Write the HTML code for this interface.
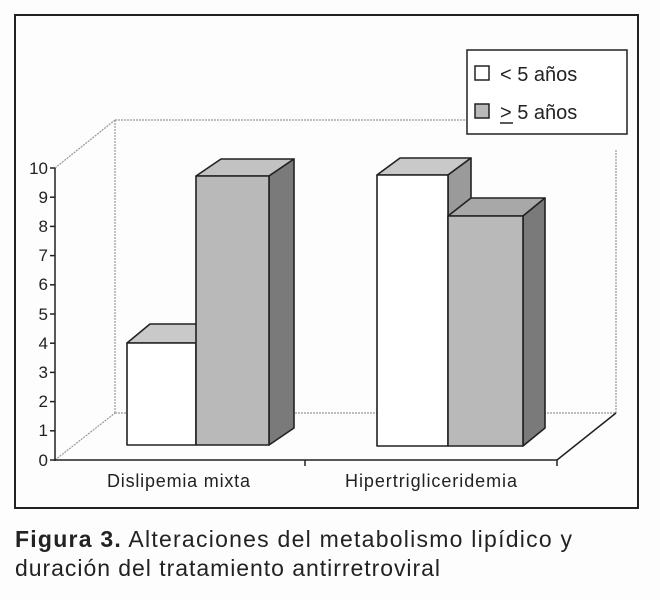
<!DOCTYPE html>
<html><head><meta charset="utf-8"><style>
body{margin:0;background:#fff;}
svg{display:block;font-family:"Liberation Sans",sans-serif;}
</style></head><body>
<svg width="660" height="600" viewBox="0 0 660 600">
<rect x="0" y="0" width="660" height="600" fill="#fdfdfd"/>
<rect x="15" y="15" width="623" height="493" fill="none" stroke="#222" stroke-width="2"/>
<g stroke="#999" stroke-width="1.2" fill="none" stroke-dasharray="2,1">
<line x1="115" y1="120" x2="468" y2="120"/>
<line x1="115" y1="120" x2="115" y2="413"/>
<line x1="115" y1="413" x2="616" y2="413"/>
<line x1="616" y1="150" x2="616" y2="413"/>
<line x1="55" y1="168" x2="115" y2="120"/>
<line x1="55" y1="460" x2="115" y2="413"/>
</g>
<g stroke="#222" stroke-width="1.5" fill="none">
<line x1="55" y1="168" x2="55" y2="461"/>
<line x1="55" y1="460" x2="557" y2="460"/>
<line x1="557" y1="460" x2="616" y2="413"/>
<line x1="305" y1="460" x2="305" y2="466"/>
<line x1="557" y1="460" x2="557" y2="466"/>
</g>
<g stroke="#222" stroke-width="1.5">
<line x1="50" y1="168" x2="55" y2="168"/><line x1="50" y1="197.2" x2="55" y2="197.2"/>
<line x1="50" y1="226.4" x2="55" y2="226.4"/><line x1="50" y1="255.6" x2="55" y2="255.6"/>
<line x1="50" y1="284.8" x2="55" y2="284.8"/><line x1="50" y1="314" x2="55" y2="314"/>
<line x1="50" y1="343.2" x2="55" y2="343.2"/><line x1="50" y1="372.4" x2="55" y2="372.4"/>
<line x1="50" y1="401.6" x2="55" y2="401.6"/><line x1="50" y1="430.8" x2="55" y2="430.8"/>
<line x1="50" y1="460" x2="55" y2="460"/>
</g>
<g font-size="17" fill="#222" text-anchor="end">
<text x="48" y="174">10</text><text x="48" y="203">9</text><text x="48" y="232">8</text>
<text x="48" y="261">7</text><text x="48" y="290">6</text><text x="48" y="320">5</text>
<text x="48" y="349">4</text><text x="48" y="378">3</text><text x="48" y="407">2</text>
<text x="48" y="436">1</text><text x="48" y="466">0</text>
</g>
<g stroke="#222" stroke-width="1.6" stroke-linejoin="round">
<polygon points="127,343 150,324 219,324 196,343" fill="#c9c9c9"/>
<rect x="127" y="343" width="69" height="102" fill="#fff"/>
<polygon points="196,176 221,159 294,159 269,176" fill="#c2c2c2"/>
<polygon points="269,176 294,159 294,428 269,445" fill="#7a7a7a"/>
<rect x="196" y="176" width="73" height="269" fill="#b9b9b9"/>
<polygon points="377,175 400,158 471,158 448,175" fill="#c9c9c9"/>
<polygon points="448,175 471,158 471,200 448,216" fill="#9a9a9a"/>
<rect x="377" y="175" width="71" height="271" fill="#fff"/>
<polygon points="448,216 471,198 545,198 523,216" fill="#a8a8a8"/>
<polygon points="523,216 545,198 545,428 523,446" fill="#7a7a7a"/>
<rect x="448" y="216" width="75" height="230" fill="#b9b9b9"/>
</g>
<g font-size="18" fill="#222">
<text x="107" y="487" textLength="143" lengthAdjust="spacing">Dislipemia mixta</text>
<text x="345" y="487" textLength="172" lengthAdjust="spacing">Hipertrigliceridemia</text>
</g>
<rect x="467" y="50" width="160" height="84" fill="#fff" stroke="#222" stroke-width="1.5"/>
<rect x="475" y="66" width="14" height="14" fill="#fff" stroke="#222" stroke-width="1.5"/>
<rect x="475" y="104" width="14" height="14" fill="#b9b9b9" stroke="#222" stroke-width="1.5"/>
<g font-size="20" fill="#222">
<text x="500" y="81">&lt; 5 años</text>
<text x="500" y="119">&gt; 5 años</text>
</g>
<line x1="500" y1="123" x2="513" y2="123" stroke="#222" stroke-width="1.5"/>
<g font-size="23" fill="#222">
<text x="15" y="547" textLength="557" lengthAdjust="spacing"><tspan font-weight="bold">Figura 3.</tspan> Alteraciones del metabolismo lipídico y</text>
<text x="15" y="576" textLength="425" lengthAdjust="spacing">duración del tratamiento antirretroviral</text>
</g>
</svg>
</body></html>
